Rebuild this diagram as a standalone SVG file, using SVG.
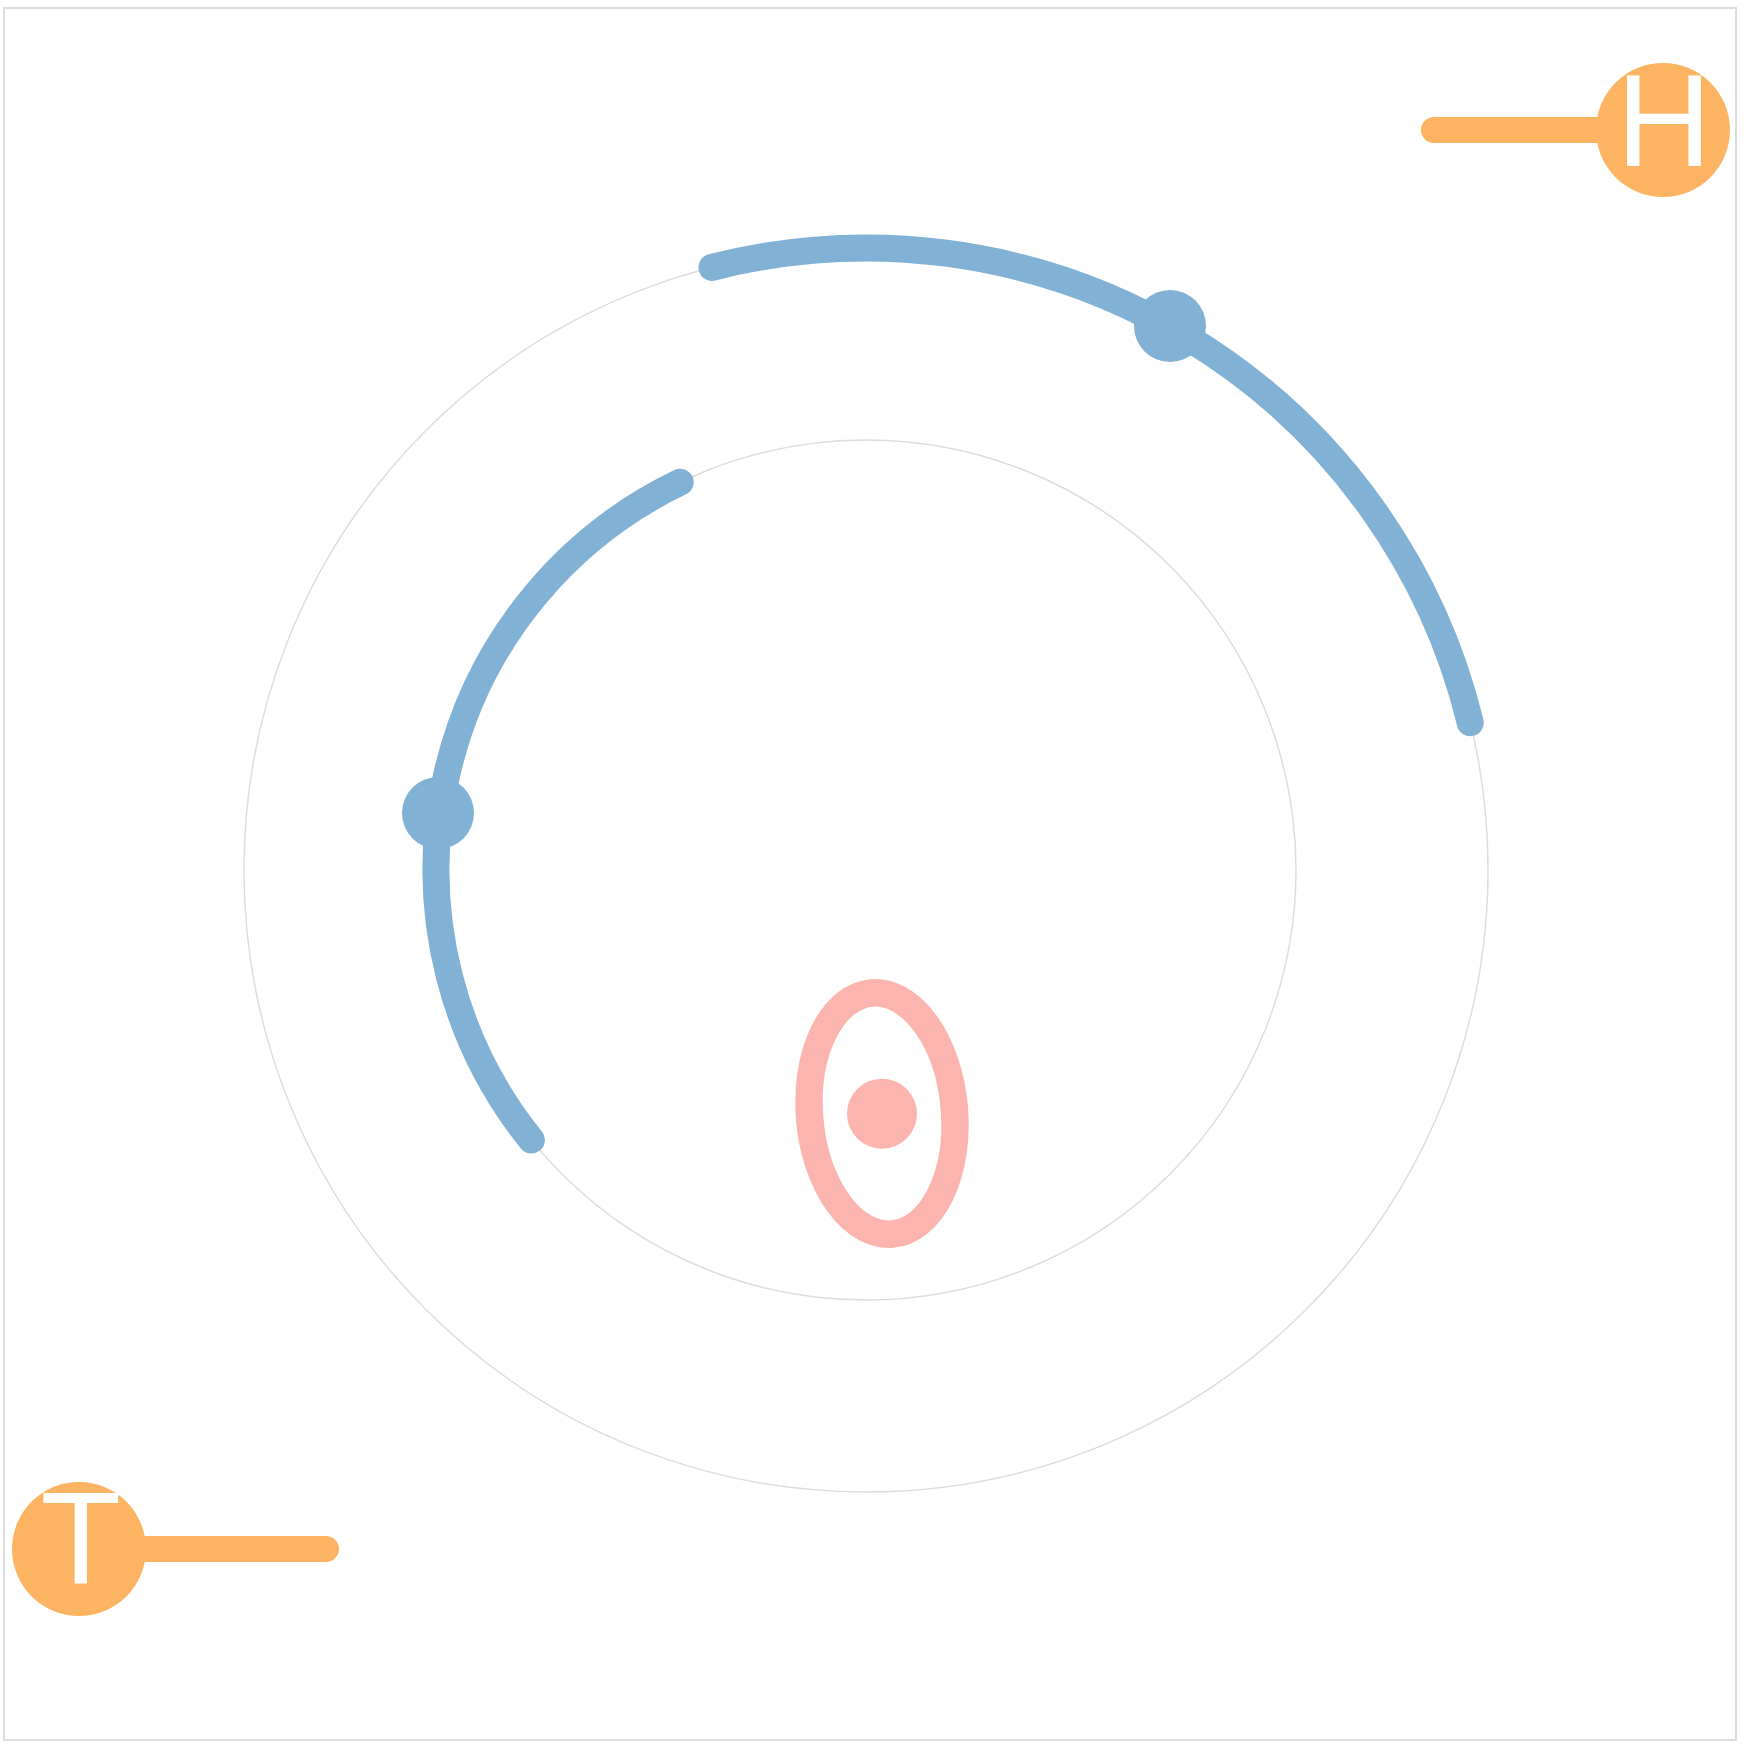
<svg xmlns="http://www.w3.org/2000/svg" width="1748" height="1750" viewBox="0 0 1748 1750">
<style>
.frame{fill:#fff;stroke:#dddddd;stroke-width:2}
.ring{fill:none;stroke:#dddddd;stroke-width:1.5}
.arc{fill:none;stroke:#81b1d4;stroke-width:27;stroke-linecap:round}
.bdot{fill:#81b1d4}
.stick{stroke:#fdb462;stroke-width:26;stroke-linecap:round}
.head{fill:#fdb462}
.lbl{fill:#fff;font-family:"Liberation Sans",Arial,sans-serif;font-size:132px;text-anchor:middle}
.pink{fill:none;stroke:#fbb4ae;stroke-width:27.5}
.pdot{fill:#fbb4ae}
</style>
<rect class="frame" x="4" y="8" width="1732" height="1732"/>
<g id="rings">
<circle class="ring" cx="866" cy="870" r="622"/>
<circle class="ring" cx="866" cy="870" r="430"/>
</g>
<g id="connectors">
<path class="arc" d="M 712 267.4 A 622 622 0 0 1 1470.3 722.7"/>
<path class="arc" d="M 680.2 482.2 A 430 430 0 0 0 531.4 1140.0"/>
</g>
<g id="node-outer-dot"><circle class="bdot" cx="1170" cy="326" r="36"/></g>
<g id="node-inner-dot"><circle class="bdot" cx="438" cy="813" r="36"/></g>
<g id="node-H">
<line class="stick" x1="1434" y1="130" x2="1663" y2="130"/>
<circle class="head" cx="1663" cy="130" r="67"/>
<text class="lbl" x="1664" y="166">H</text>
</g>
<g id="node-T">
<line class="stick" x1="79" y1="1549" x2="326" y2="1549"/>
<circle class="head" cx="79" cy="1549" r="67"/>
<text class="lbl" x="80.7" y="1584">T</text>
</g>
<g id="node-pink">
<ellipse class="pink" cx="882" cy="1113.5" rx="72.5" ry="121" transform="rotate(-5 882 1113.5)"/>
<circle class="pdot" cx="882" cy="1113.7" r="35"/>
</g>
</svg>
